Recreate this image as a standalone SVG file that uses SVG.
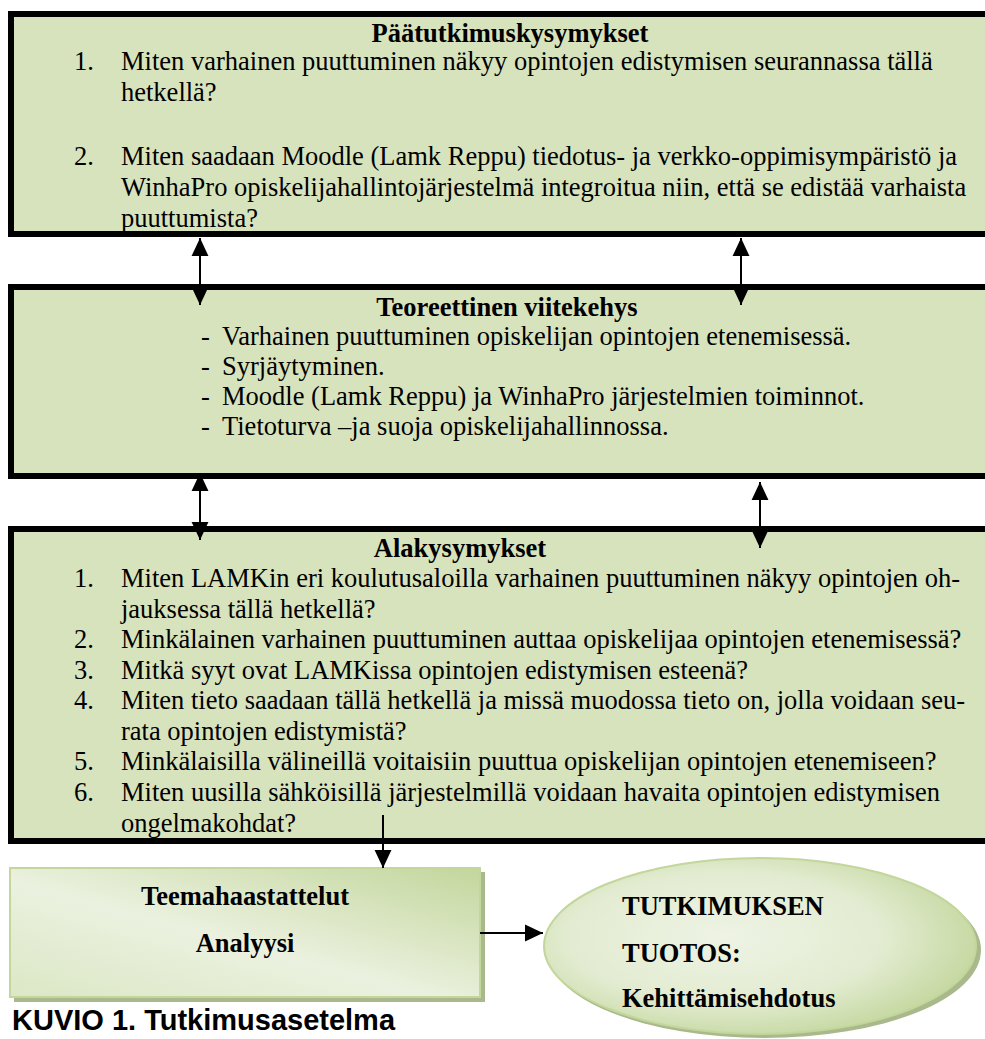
<svg xmlns="http://www.w3.org/2000/svg" width="985" height="1039" viewBox="0 0 985 1039">
<style>
.box{fill:#d7e3bd;stroke:#000;stroke-width:6}
.t{font-family:"Liberation Serif","Times New Roman",serif;font-size:26.5px;fill:#000}
.b{font-weight:bold}
.c{text-anchor:middle}
.con{stroke:#000;stroke-width:2;fill:none}
</style>
<defs>
<marker id="ah" markerUnits="userSpaceOnUse" markerWidth="18" markerHeight="18" viewBox="0 0 16 16" refX="16" refY="8" orient="auto-start-reverse">
<path d="M0,0.5 L16,8 L0,15.5 Z" fill="#000"/>
</marker>
<linearGradient id="gr" x1="1" y1="0" x2="0" y2="1">
<stop offset="0" stop-color="#c3d69c"/>
<stop offset="0.55" stop-color="#ebf1df"/>
<stop offset="1" stop-color="#dbe7c5"/>
</linearGradient>
<radialGradient id="ge" cx="0.42" cy="0.45" r="0.6">
<stop offset="0" stop-color="#eef3e4"/>
<stop offset="0.6" stop-color="#e3ecd2"/>
<stop offset="1" stop-color="#c5d8a0"/>
</radialGradient>
</defs>
<rect width="985" height="1039" fill="#fff"/>
<g id="paatutkimuskysymykset">
<rect class="box" x="11" y="14" width="1000" height="220"/>
<text class="t b c" x="510" y="42">Päätutkimuskysymykset</text>
<text class="t" x="74" y="70">1.</text>
<text class="t" x="121" y="70">Miten varhainen puuttuminen näkyy opintojen edistymisen seurannassa tällä</text>
<text class="t" x="121" y="101">hetkellä?</text>
<text class="t" x="74" y="165">2.</text>
<text class="t" x="121" y="165">Miten saadaan Moodle (Lamk Reppu) tiedotus- ja verkko-oppimisympäristö ja</text>
<text class="t" x="121" y="196">WinhaPro opiskelijahallintojärjestelmä integroitua niin, että se edistää varhaista</text>
<text class="t" x="121" y="227">puuttumista?</text>
</g>
<g id="teoreettinen">
<rect class="box" x="11" y="287" width="1000" height="189"/>
<text class="t b c" x="507" y="316">Teoreettinen viitekehys</text>
<text class="t" x="201" y="345">-</text>
<text class="t" x="222" y="345">Varhainen puuttuminen opiskelijan opintojen etenemisessä.</text>
<text class="t" x="201" y="375">-</text>
<text class="t" x="222" y="375">Syrjäytyminen.</text>
<text class="t" x="201" y="405">-</text>
<text class="t" x="222" y="405">Moodle (Lamk Reppu) ja WinhaPro järjestelmien toiminnot.</text>
<text class="t" x="201" y="435">-</text>
<text class="t" x="222" y="435">Tietoturva –ja suoja opiskelijahallinnossa.</text>
</g>
<g id="alakysymykset">
<rect class="box" x="11" y="529" width="1000" height="312"/>
<text class="t b c" x="460" y="557">Alakysymykset</text>
<text class="t" x="74" y="587">1.</text>
<text class="t" x="121" y="587">Miten LAMKin eri koulutusaloilla varhainen puuttuminen näkyy opintojen oh-</text>
<text class="t" x="121" y="618">jauksessa tällä hetkellä?</text>
<text class="t" x="74" y="648">2.</text>
<text class="t" x="121" y="648">Minkälainen varhainen puuttuminen auttaa opiskelijaa opintojen etenemisessä?</text>
<text class="t" x="74" y="679">3.</text>
<text class="t" x="121" y="679">Mitkä syyt ovat LAMKissa opintojen edistymisen esteenä?</text>
<text class="t" x="74" y="709">4.</text>
<text class="t" x="121" y="709">Miten tieto saadaan tällä hetkellä ja missä muodossa tieto on, jolla voidaan seu-</text>
<text class="t" x="121" y="740">rata opintojen edistymistä?</text>
<text class="t" x="74" y="770">5.</text>
<text class="t" x="121" y="770">Minkälaisilla välineillä voitaisiin puuttua opiskelijan opintojen etenemiseen?</text>
<text class="t" x="74" y="801">6.</text>
<text class="t" x="121" y="801">Miten uusilla sähköisillä järjestelmillä voidaan havaita opintojen edistymisen</text>
<text class="t" x="121" y="832">ongelmakohdat?</text>
</g>
<g id="teemahaastattelut">
<rect x="14" y="872" width="471" height="130" fill="#a9b98c"/>
<rect x="10" y="868" width="470" height="129" fill="url(#gr)" stroke="#c3d69b" stroke-width="2"/>
<text class="t b c" x="245" y="905">Teemahaastattelut</text>
<text class="t b c" x="245" y="952">Analyysi</text>
</g>
<g id="tuotos">
<ellipse cx="764" cy="950" rx="217" ry="88" fill="#a9b98c"/>
<ellipse cx="760" cy="946" rx="216" ry="88" fill="url(#ge)" stroke="#c3d69b" stroke-width="2"/>
<text class="t b" x="622" y="915">TUTKIMUKSEN</text>
<text class="t b" x="622" y="962">TUOTOS:</text>
<text class="t b" x="622" y="1007">Kehittämisehdotus</text>
</g>
<text x="12" y="1030" font-family="'Liberation Sans',Arial,sans-serif" font-weight="bold" font-size="29" fill="#000">KUVIO 1. Tutkimusasetelma</text>
<g id="connectors">
<line class="con" x1="200" y1="238" x2="200" y2="305" marker-start="url(#ah)" marker-end="url(#ah)"/>
<line class="con" x1="741" y1="238" x2="741" y2="305" marker-start="url(#ah)" marker-end="url(#ah)"/>
<line class="con" x1="200" y1="473" x2="200" y2="540" marker-start="url(#ah)" marker-end="url(#ah)"/>
<line class="con" x1="760" y1="482" x2="760" y2="548" marker-start="url(#ah)" marker-end="url(#ah)"/>
<line class="con" x1="383" y1="815" x2="383" y2="868" marker-end="url(#ah)"/>
<line class="con" x1="480" y1="933" x2="543" y2="933" stroke-width="3" marker-end="url(#ah)"/>
</g>
</svg>
